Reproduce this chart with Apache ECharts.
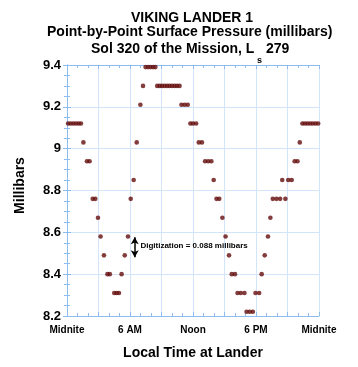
<!DOCTYPE html>
<html><head><meta charset="utf-8">
<script src="https://cdn.jsdelivr.net/npm/echarts@6/dist/echarts.min.js"></script>
<style>html,body{margin:0;padding:0;background:#fff}#c{width:358px;height:367px}</style>
</head><body><div id="c"></div>
<script>
// Local time (hours) of each reading
var hours = [0.1,0.35,0.6,0.85,1.1,1.33,1.56,1.9,2.15,2.45,2.7,2.95,3.2,3.52,3.85,4.08,4.5,4.73,4.95,5.2,5.5,5.81,6.07,6.35,6.64,6.99,7.24,
  7.48,7.72,7.96,8.2,8.42,
  8.59,8.83,9.06,9.30,9.54,9.77,10.01,10.25,10.48,10.72,
  10.9,11.2,11.5,11.75,12.0,12.3,12.55,12.85,13.15,13.45,13.75,13.97,14.24,14.5,14.8,15.1,15.43,15.69,16.0,
  16.24,16.55,16.9,17.1,17.4,17.7,17.95,18.3,18.54,18.83,19.14,19.37,19.6,19.95,20.3,20.5,20.8,21.07,21.4,
  21.68,21.95,22.17,22.42,22.67,22.92,23.17,23.42,23.67,23.92];
// Surface pressure (millibars) of each reading
var pressures = [9.12,9.12,9.12,9.12,9.12,9.12,9.03,8.94,8.94,8.76,8.76,8.67,8.58,8.49,8.40,8.40,8.31,8.31,8.31,8.40,8.49,8.58,8.76,8.85,9.03,9.21,9.30,
  9.39,9.39,9.39,9.39,9.39,
  9.30,9.30,9.30,9.30,9.30,9.30,9.30,9.30,9.30,9.30,
  9.21,9.21,9.21,9.12,9.12,9.12,9.03,9.03,8.94,8.94,8.94,8.85,8.76,8.76,8.67,8.58,8.49,8.40,8.40,
  8.31,8.31,8.31,8.22,8.22,8.22,8.31,8.31,8.40,8.49,8.58,8.67,8.76,8.76,8.76,8.85,8.76,8.85,8.85,
  8.94,8.94,9.03,9.12,9.12,9.12,9.12,9.12,9.12,9.12];
// x tick labels (hours -> text)
var xTickHours = [0,6,12,18,24];
var xTickTexts = ['Midnite','6 AM','Noon','6 PM','Midnite'];
// digitization marker
var digitTop = 8.576, digitBottom = 8.481, digitHour = 6.45;

var pts = hours.map(function(h,i){return [h, pressures[i]];});
var axisBlue = '#8dbcf3', gridBlue = '#d3e5fb';
var font = 'Liberation Sans, Arial, Helvetica, sans-serif';

var chart = echarts.init(document.getElementById('c'), null, {renderer:'canvas'});
function baseX(extra){
  return Object.assign({
    type:'value', min:0, max:24, interval:3,
    axisLine:{show:true, lineStyle:{color:axisBlue, width:1}},
    axisTick:{show:true, inside:true, length:4, lineStyle:{color:axisBlue}},
    minorTick:{show:true, splitNumber:3, length:3, lineStyle:{color:axisBlue}},
    splitLine:{show:false}, axisLabel:{show:false}
  }, extra);
}
function baseY(extra){
  return Object.assign({
    type:'value', min:8.2, max:9.4, interval:0.2,
    axisLine:{show:true, lineStyle:{color:axisBlue, width:1}},
    axisTick:{show:true, inside:true, length:4, lineStyle:{color:axisBlue}},
    minorTick:{show:true, splitNumber:4, length:3, lineStyle:{color:axisBlue}},
    splitLine:{show:false}, axisLabel:{show:false}
  }, extra);
}
var tStyle = {fontFamily:font, fontWeight:'bold', fontSize:14, color:'#000'};
chart.setOption({
  animation:false,
  title:[
    {text:'VIKING LANDER 1', left:131, top:11, padding:0, textStyle:tStyle},
    {text:'Point-by-Point Surface Pressure (millibars)', left:47, top:25, padding:0, textStyle:tStyle},
    {text:'Sol 320 of the Mission, L   279', left:91, top:42, padding:0, textStyle:tStyle},
    {text:'s', left:257, top:56, padding:0, textStyle:{fontFamily:font, fontWeight:'bold', fontSize:9, color:'#000'}}
  ],
  grid:{left:67, top:65, width:252, height:251},
  xAxis:[
    baseX({position:'bottom',
      splitLine:{show:true, lineStyle:{color:gridBlue, width:1}},
      axisLabel:{show:true, margin:9, fontFamily:font, fontWeight:'bold', fontSize:10, color:'#000',
        formatter:function(v){var i=xTickHours.indexOf(v); return i>=0?xTickTexts[i]:'';}},
      name:'Local Time at Lander', nameLocation:'middle', nameGap:30,
      nameTextStyle:{fontFamily:font, fontWeight:'bold', fontSize:14, color:'#000'}
    }),
    baseX({position:'top'})
  ],
  yAxis:[
    baseY({position:'left',
      splitLine:{show:true, lineStyle:{color:gridBlue, width:1}},
      axisLabel:{show:true, margin:6, fontFamily:font, fontWeight:'bold', fontSize:13, color:'#000',
        formatter:function(v){return String(+v.toFixed(1));}},
      name:'Millibars', nameLocation:'middle', nameGap:40,
      nameTextStyle:{fontFamily:font, fontWeight:'bold', fontSize:14, color:'#000', padding:[0,0,0,10]}
    }),
    baseY({position:'right'})
  ],
  series:[{
    type:'scatter', xAxisIndex:0, yAxisIndex:0, data:pts,
    symbol:'circle', symbolSize:4.6, itemStyle:{color:'#640c0c'},
    markLine:{silent:true, symbol:['arrow','arrow'], symbolSize:[6,7],
      lineStyle:{color:'#000', width:1.5, type:'solid'}, label:{show:false},
      data:[[{coord:[digitHour,digitTop]},{coord:[digitHour,digitBottom]}]]},
    markPoint:{silent:true, symbol:'circle', symbolSize:0,
      data:[{coord:[6.99,8.537], label:{show:true, position:'right', distance:0,
        formatter:'Digitization = 0.088 millibars', fontFamily:font, fontWeight:'bold', fontSize:8, color:'#000'}}]}
  }]
});
</script></body></html>
